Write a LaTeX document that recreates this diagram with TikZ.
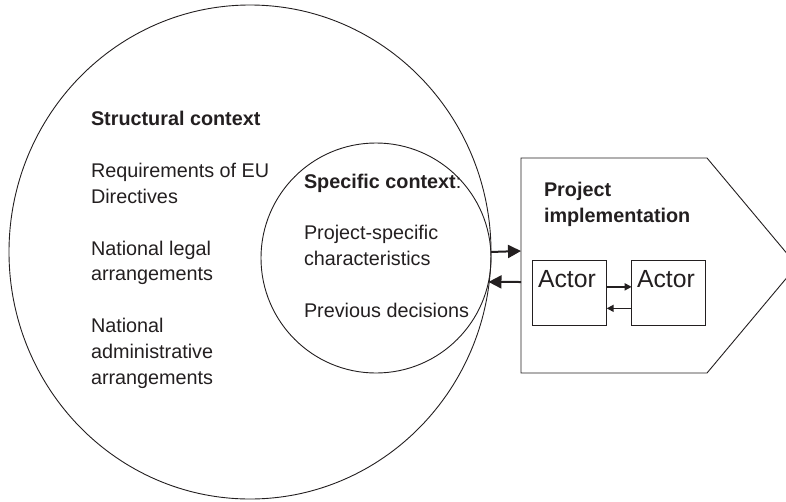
\documentclass[tikz,border=0pt]{standalone}
\usepackage{fontspec}
\setmainfont{Liberation Sans}
\usetikzlibrary{arrows.meta}
\usetikzlibrary{shapes.geometric}
\definecolor{ink}{HTML}{231F20}
\newcommand{\blurbsize}{\fontsize{19.8}{25.8}\selectfont}
\tikzstyle{ring}=[draw=ink, line width=0.9pt, inner sep=0, outer sep=0]
% multi-line blurbs sit on the baseline of their last line
\tikzstyle{blurb}=[inner sep=0, outer sep=0, align=left, anchor=base west, text=ink, font=\blurbsize]
\tikzstyle{actor}=[draw=ink, line width=0.9pt, anchor=north west, align=left, text=ink,
                   inner xsep=5.3pt, inner ysep=0, outer sep=0,
                   text width=63.4pt, text height=27pt, text depth=37.3pt,
                   font=\fontsize{24.8}{28}\selectfont]
\tikzstyle{flow}=[draw=ink, line width=2pt, -{Triangle[length=13pt, width=13pt]}]
\tikzstyle{smallflow}=[draw=ink, line width=1.6pt, -{Triangle[length=7pt, width=7pt]}]

\begin{document}
\begin{tikzpicture}[x=1pt, y=-1pt]
        \clip (0, 0) rectangle (786, 501);
        % the two context circles
        \node[ring, ellipse, minimum width=482pt, minimum height=494pt] (structural) at (250, 252) {};
        \node[ring, circle, minimum size=230pt]                         (specific)   at (376, 258) {};
        \node[blurb] (structtitle) at (91, 125)  {\textbf{Structural context}};
        \node[blurb] (structtext)  at (91, 384)  {Requirements of EU\\Directives\\[25.8pt]National legal\\arrangements\\[25.8pt]National\\administrative\\arrangements};
        \node[blurb] (spectitle)   at (304, 188) {\textbf{Specific context}:};
        \node[blurb] (spectext)    at (304, 317) {Project-specific\\characteristics\\[25.8pt]Previous decisions};
        % project box, pointing to the right
        \coordinate (pnw) at (521, 158);
        \coordinate (pne) at (707, 158);
        \coordinate (ptip) at (797, 265.5);
        \coordinate (pse) at (707, 373);
        \coordinate (psw) at (521, 373);
        \draw[ink, line width=0.9pt] (pnw) -- (pne) -- (ptip) -- (pse) -- (psw) -- cycle;
        \node[blurb] (projtitle) at (544, 222) {\textbf{Project}\\\textbf{implementation}};
        \node[actor] (actorA) at (532.7, 260.7) {Actor};
        \node[actor] (actorB) at (631.7, 260.7) {Actor};
        % exchanges
        \coordinate (pin)  at (521, 251);
        \coordinate (pout) at (521, 282);
        \draw[flow] (specific.3.5) -- (pin);
        \draw[flow] (pout) -- (specific.-12);
        \draw[smallflow] ([yshift=6pt]actorA.east) -- ([yshift=6pt]actorB.west);
        \draw[smallflow] ([yshift=-15.5pt]actorB.west) -- ([yshift=-15.5pt]actorA.east);
    \end{tikzpicture}
\end{document}
